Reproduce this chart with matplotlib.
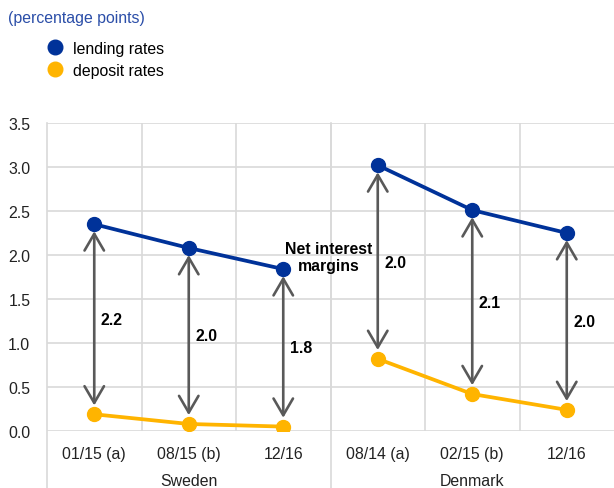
import matplotlib.pyplot as plt
from matplotlib.lines import Line2D

plt.rcParams['font.family'] = ['Liberation Sans', 'DejaVu Sans']

# Données
categories = ["01/15 (a)", "08/15 (b)", "12/16", "08/14 (a)", "02/15 (b)", "12/16"]
countries = ["Sweden", "Denmark"]
lending_sweden = [2.35, 2.08, 1.84]
deposit_sweden = [0.19, 0.08, 0.05]
lending_denmark = [3.02, 2.51, 2.25]
deposit_denmark = [0.82, 0.42, 0.24]
margins = ["2.2", "2.0", "1.8", "2.0", "2.1", "2.0"]

blue = "#003299"
yellow = "#ffb400"
grey = "#595959"
fs = 11.4

fig = plt.figure(figsize=(6.14, 4.89), dpi=100)
ax = fig.add_axes([47/614, 57/489, 567/614, 308/489])

lending = lending_sweden + lending_denmark
deposit = deposit_sweden + deposit_denmark
x = list(range(len(categories)))

# Lignes par pays
for i0 in (0, 3):
    xs = x[i0:i0+3]
    ax.plot(xs, lending[i0:i0+3], color=blue, lw=2.7, marker='o', ms=10, zorder=4)
    ax.plot(xs, deposit[i0:i0+3], color=yellow, lw=2.7, marker='o', ms=10, zorder=4)

# Flèches des marges
for xi, lo, hi, lab in zip(x, deposit, lending, margins):
    ax.annotate("", xy=(xi, hi - 0.08), xytext=(xi, lo + 0.1),
                arrowprops=dict(arrowstyle='<->,head_length=1.2,head_width=0.7',
                                mutation_scale=10, color=grey, lw=1.9,
                                shrinkA=0, shrinkB=0), zorder=3)
    ax.text(xi + 0.07, (lo + hi) / 2, lab, fontsize=fs, fontweight='bold',
            va='center', ha='left')

ax.text(2.48, 1.98, "Net interest\nmargins", fontsize=fs, fontweight='bold',
        ha='center', va='center', linespacing=1.2)

# Axes
ax.set_xlim(-0.5, 5.5)
ax.set_ylim(0, 3.5)
ax.set_yticks([0, 0.5, 1.0, 1.5, 2.0, 2.5, 3.0, 3.5])
ax.set_yticklabels([f"{v:.1f}" for v in ax.get_yticks()])
ax.set_xticks(x)
ax.set_xticklabels(categories)
ax.set_xticks([i - 0.5 for i in range(1, 6)], minor=True)
ax.tick_params(axis='both', which='both', length=0, labelsize=fs, colors='#222222')
ax.tick_params(axis='x', pad=11)
ax.tick_params(axis='y', pad=12)
ax.grid(True, which='both', color='#d9d9d9', lw=1.2)
ax.grid(False, which='major', axis='x')
ax.set_axisbelow(True)
for s in ax.spines.values():
    s.set_visible(False)

# Séparateurs qui descendent sous l'axe
for xv in (-0.5, 2.5):
    ax.add_line(Line2D([xv, xv], [-0.65, 3.5], color='#d9d9d9', lw=1.2,
                       clip_on=False, zorder=0))

ax.text(1, -0.56, countries[0], ha='center', va='center', fontsize=fs, color='#222222')
ax.text(4, -0.56, countries[1], ha='center', va='center', fontsize=fs, color='#222222')

# Titre et légende
fig.text(8/614, 1 - 19/489, "(percentage points)", color="#2b4ea8", fontsize=fs, va='center')
handles = [Line2D([], [], color=blue, marker='o', ls='', ms=10.5),
           Line2D([], [], color=yellow, marker='o', ls='', ms=10.5)]
fig.legend(handles, ["lending rates", "deposit rates"], loc='upper left',
           bbox_to_anchor=(35/614, 1 - 34/489), frameon=False, fontsize=fs,
           handletextpad=0.4, labelspacing=0.42, borderpad=0, handlelength=1.5)

fig.savefig("out.png", dpi=100)
